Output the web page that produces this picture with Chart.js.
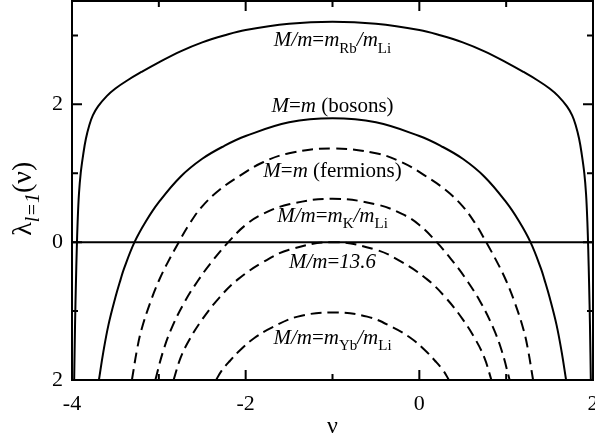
<!DOCTYPE html>
<html>
<head>
<meta charset="utf-8">
<script src="https://cdn.jsdelivr.net/npm/chart.js@4.4.1/dist/chart.umd.min.js"></script>
<style>
  html, body { margin: 0; padding: 0; background: #fff; }
  #wrap { width: 595px; height: 435px; }
</style>
</head>
<body>
<div id="wrap"><canvas id="chart" width="595" height="435"></canvas></div>
<script>
// values (nu, lambda)
const nuRb = [-3.975,-3.965,-3.955,-3.945,-3.935,-3.92,-3.9,-3.87,-3.84,-3.8,-3.76,-3.7,-3.6,-3.5,-3.36,-3.2,-3.0,-2.75,-2.5,-2.25,-2.0,-1.5,-1.0,-0.5,0.0,0.25,0.5,0.75,1.0,1.2,1.36,1.5,1.6,1.7,1.76,1.8,1.84,1.87,1.9,1.92,1.935,1.945,1.955,1.965,1.975];
const lamRb = [-2.0,-1.2,-0.6,-0.1,0.3,0.7,1.0,1.28,1.5,1.7,1.84,1.97,2.12,2.23,2.35,2.47,2.61,2.77,2.90,3.00,3.08,3.17,3.20,3.17,3.08,3.00,2.90,2.77,2.61,2.47,2.35,2.23,2.12,1.97,1.84,1.7,1.5,1.28,1.0,0.7,0.3,-0.1,-0.6,-1.2,-2.0];

const nuBos = [-3.69,-3.64,-3.58,-3.5,-3.44,-3.4,-3.28,-3.15,-3.0,-2.75,-2.5,-2.25,-2.0,-1.5,-1.0,-0.5,0.0,0.25,0.5,0.75,1.0,1.15,1.28,1.4,1.44,1.5,1.58,1.64,1.69];
const lamBos = [-2.0,-1.6,-1.2,-0.8,-0.54,-0.38,0.0,0.30,0.58,0.95,1.21,1.395,1.54,1.74,1.80,1.74,1.54,1.395,1.21,0.95,0.58,0.30,0.0,-0.38,-0.54,-0.8,-1.2,-1.6,-2.0];

const nuFer = [-3.31,-3.25,-3.2,-3.1,-3.0,-2.9,-2.77,-2.65,-2.5,-2.3,-2.06,-1.8,-1.5,-1.0,-0.5,-0.2,0.06,0.3,0.5,0.65,0.77,0.9,1.0,1.1,1.2,1.25,1.31];
const lamFer = [-2.0,-1.55,-1.27,-0.88,-0.56,-0.3,0.0,0.26,0.52,0.76,0.97,1.16,1.29,1.36,1.29,1.16,0.97,0.76,0.52,0.26,0.0,-0.3,-0.56,-0.88,-1.27,-1.55,-2.0];

const nuK = [-3.04,-2.95,-2.85,-2.7,-2.55,-2.4,-2.2,-2.0,-1.8,-1.5,-1.0,-0.5,-0.2,0.0,0.2,0.4,0.55,0.7,0.85,0.95,1.04];
const lamK = [-2.0,-1.58,-1.24,-0.86,-0.56,-0.3,0.0,0.25,0.41,0.55,0.63,0.55,0.41,0.25,0.0,-0.3,-0.56,-0.86,-1.24,-1.58,-2.0];

const nu136 = [-2.83,-2.75,-2.65,-2.5,-2.3,-2.09,-1.8,-1.5,-1.0,-0.5,-0.2,0.09,0.3,0.5,0.65,0.75,0.83];
const lam136 = [-2.0,-1.68,-1.42,-1.12,-0.8,-0.54,-0.29,-0.11,0.0,-0.11,-0.29,-0.54,-0.8,-1.12,-1.42,-1.68,-2.0];

const nuYb = [-2.34,-2.28,-2.18,-2.05,-1.9,-1.7,-1.4,-1.0,-0.6,-0.3,-0.1,0.05,0.18,0.28,0.34];
const lamYb = [-2.0,-1.87,-1.72,-1.55,-1.39,-1.24,-1.08,-1.02,-1.08,-1.24,-1.39,-1.55,-1.72,-1.87,-2.0];

const nuZero = [-4, 2];
const lamZero = [0, 0];

// axis ticks
const xMajor = [-4, -2, 0, 2];
const xMajorLabels = ['-4', '-2', '0', '2'];
const xMinor = [-3, -1, 1];
const yMajor = [-2, 0, 2];
const yMajorLabels = ['2', '0', '2'];
const yMinor = [-1, 1, 3];

const SERIF = '"Liberation Serif", "DejaVu Serif", serif';

function pts(xs, ys) {
    return xs.map((x, i) => ({ x: x, y: ys[i] }));
}

function curve(xs, ys, dashed) {
    return {
        data: pts(xs, ys),
        borderColor: '#000',
        borderWidth: 2,
        borderDash: dashed ? [11, 6] : [],
        pointRadius: 0,
        fill: false,
        tension: 0.4
    };
}

// curve annotations: runs of text (it = italic, sub = subscript)
const notes = [
    { nu: -1, lam: 2.84, runs: [{ t: 'M/m', it: 1 }, { t: '=' }, { t: 'm', it: 1 }, { t: 'Rb', sub: 1 }, { t: '/m', it: 1 }, { t: 'Li', sub: 1 }] },
    { nu: -1, lam: 1.89, runs: [{ t: 'M', it: 1 }, { t: '=' }, { t: 'm', it: 1 }, { t: ' (bosons)' }] },
    { nu: -1, lam: 0.95, runs: [{ t: 'M', it: 1 }, { t: '=' }, { t: 'm', it: 1 }, { t: ' (fermions)' }] },
    { nu: -1, lam: 0.29, runs: [{ t: 'M/m', it: 1 }, { t: '=' }, { t: 'm', it: 1 }, { t: 'K', sub: 1 }, { t: '/m', it: 1 }, { t: 'Li', sub: 1 }] },
    { nu: -1, lam: -0.37, runs: [{ t: 'M/m', it: 1 }, { t: '=' }, { t: '13.6', it: 1 }] },
    { nu: -1, lam: -1.48, runs: [{ t: 'M/m', it: 1 }, { t: '=' }, { t: 'm', it: 1 }, { t: 'Yb', sub: 1 }, { t: '/m', it: 1 }, { t: 'Li', sub: 1 }] }
];

function runFont(r, size) {
    const s = r.sub ? Math.round(size * 0.72) : size;
    return (r.it ? 'italic ' : '') + s + 'px ' + SERIF;
}

function drawRuns(ctx, runs, x0, base, size, center) {
    let w = 0;
    runs.forEach(r => { ctx.font = runFont(r, size); w += ctx.measureText(r.t).width; });
    let x = center ? x0 - w / 2 : x0;
    runs.forEach(r => {
        ctx.font = runFont(r, size);
        ctx.fillText(r.t, x, base + (r.sub ? size * 0.3 : 0));
        x += ctx.measureText(r.t).width;
    });
    return w;
}

const framePlugin = {
    id: 'frame',
    afterDraw(chart) {
        const ctx = chart.ctx;
        const a = chart.chartArea;
        const xs = chart.scales.x, ys = chart.scales.y;
        ctx.save();
        ctx.strokeStyle = '#000';
        ctx.fillStyle = '#000';
        ctx.lineWidth = 2;
        ctx.strokeRect(a.left, a.top, a.right - a.left, a.bottom - a.top);

        // inward ticks on all four sides
        ctx.beginPath();
        const tx = (v, len) => {
            const p = xs.getPixelForValue(v);
            ctx.moveTo(p, a.bottom); ctx.lineTo(p, a.bottom - len);
            ctx.moveTo(p, a.top); ctx.lineTo(p, a.top + len);
        };
        const ty = (v, len) => {
            const p = ys.getPixelForValue(v);
            ctx.moveTo(a.left, p); ctx.lineTo(a.left + len, p);
            ctx.moveTo(a.right, p); ctx.lineTo(a.right - len, p);
        };
        xMajor.forEach(v => tx(v, 10));
        xMinor.forEach(v => tx(v, 6));
        yMajor.forEach(v => ty(v, 10));
        yMinor.forEach(v => ty(v, 6));
        ctx.stroke();

        // tick labels
        ctx.font = '22px ' + SERIF;
        ctx.textAlign = 'center';
        ctx.textBaseline = 'alphabetic';
        xMajor.forEach((v, i) => ctx.fillText(xMajorLabels[i], xs.getPixelForValue(v), a.bottom + 30));
        ctx.textAlign = 'right';
        ctx.textBaseline = 'middle';
        yMajor.forEach((v, i) => ctx.fillText(yMajorLabels[i], a.left - 9, ys.getPixelForValue(v)));

        // axis titles
        ctx.textBaseline = 'alphabetic';
        ctx.font = '24px ' + SERIF;
        ctx.textAlign = 'center';
        ctx.fillText('\u03bd', xs.getPixelForValue(-1), a.bottom + 53);

        ctx.save();
        ctx.translate(31, ys.getPixelForValue(0.63));
        ctx.rotate(-Math.PI / 2);
        ctx.textAlign = 'left';
        drawRuns(ctx, [{ t: '\u03bb' }, { t: 'l=1', it: 1, sub: 1 }, { t: '(\u03bd)' }], 0, 0, 28, true);
        ctx.restore();

        // curve labels
        ctx.textAlign = 'left';
        notes.forEach(n => {
            drawRuns(ctx, n.runs, xs.getPixelForValue(n.nu), ys.getPixelForValue(n.lam), 21, true);
        });
        ctx.restore();
    }
};

new Chart(document.getElementById('chart'), {
    type: 'line',
    data: {
        datasets: [
            curve(nuZero, lamZero, false),
            curve(nuRb, lamRb, false),
            curve(nuBos, lamBos, false),
            curve(nuFer, lamFer, true),
            curve(nuK, lamK, true),
            curve(nu136, lam136, true),
            curve(nuYb, lamYb, true)
        ]
    },
    options: {
        responsive: false,
        animation: false,
        devicePixelRatio: 1,
        layout: { padding: { top: 1, right: 2, left: 0, bottom: 0 } },
        plugins: { legend: { display: false }, tooltip: { enabled: false } },
        scales: {
            x: {
                type: 'linear', min: -4, max: 2,
                grid: { display: false }, border: { display: false },
                ticks: { display: false },
                afterFit: s => { s.height = 55; }
            },
            y: {
                type: 'linear', min: -2, max: 3.5,
                grid: { display: false }, border: { display: false },
                ticks: { display: false },
                afterFit: s => { s.width = 72; }
            }
        }
    },
    plugins: [framePlugin]
});
</script>
</body>
</html>
